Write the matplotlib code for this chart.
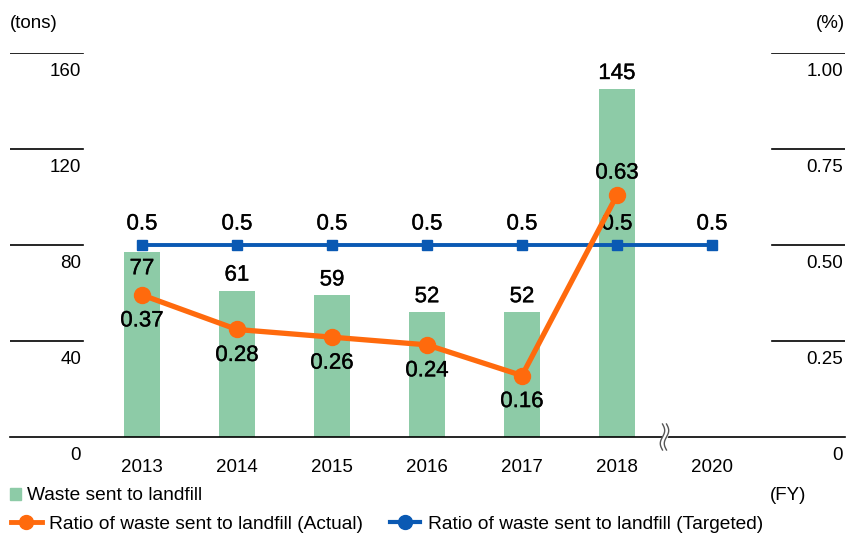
import numpy as np
import matplotlib.pyplot as plt
import matplotlib.patheffects as pe
from matplotlib.lines import Line2D
from matplotlib.patches import Patch
import matplotlib.transforms as mtransforms

# data
years = ['2013', '2014', '2015', '2016', '2017', '2018', '2020']
waste = [77, 61, 59, 52, 52, 145]              # tons, no bar for 2020
ratio_actual = [0.37, 0.28, 0.26, 0.24, 0.16, 0.63]
ratio_target = [0.5, 0.5, 0.5, 0.5, 0.5, 0.5, 0.5]
left_ticks = [0, 40, 80, 120, 160]
right_ticks = [0, 0.25, 0.50, 0.75, 1.00]
right_labels = ['0', '0.25', '0.50', '0.75', '1.00']

GREEN = '#8dcba7'
ORANGE = '#ff6a0d'
BLUE = '#0a59b3'

plt.rcParams['font.family'] = ['Liberation Sans', 'DejaVu Sans']
FS = 13.5
LEG_FS = 13.75
LFS = 16
bold_ish = [pe.withStroke(linewidth=0.3, foreground='#1a1a1a')]

W, H = 847, 537
fig = plt.figure(figsize=(W / 100, H / 100), dpi=100)
ax = fig.add_axes([10 / W, 100 / H, 835 / W, 384 / H])
x = np.arange(len(years))
ax.set_xlim(-1.389, 7.4)
ax.set_ylim(0, 160)
for s in ['top', 'left', 'right']:
    ax.spines[s].set_visible(False)
ax.spines['bottom'].set_linewidth(1.2)
ax.set_yticks([])
ax.set_xticks(x, years)
ax.tick_params(axis='x', length=0, pad=16, labelsize=FS)

# short gridline stubs on both sides
for v in left_ticks[1:]:
    ax.axhline(v, xmin=0, xmax=73 / 835, color='black', lw=1.2)
    ax.axhline(v, xmin=762 / 835, xmax=1, color='black', lw=1.2)

ytr = mtransforms.blended_transform_factory(ax.transAxes, ax.transData)
for v in left_ticks:
    ax.annotate(str(v), (71 / 835, v), xycoords=ytr, xytext=(0, -19),
                textcoords='offset pixels', ha='right', va='center', fontsize=FS)
for v, lab in zip(right_ticks, right_labels):
    ax.annotate(lab, (833 / 835, v * 160), xycoords=ytr, xytext=(0, -19),
                textcoords='offset pixels', ha='right', va='center', fontsize=FS)

# bars
ax.bar(x[:len(waste)], waste, width=0.38, color=GREEN, zorder=2)
for i, v in enumerate(waste):
    if i == 0:
        ax.annotate(str(v), (x[i], v), xytext=(0, -6), textcoords='offset pixels',
                    ha='center', va='top', fontsize=LFS, zorder=6,
                    path_effects=bold_ish)
    else:
        ax.annotate(str(v), (x[i], v), xytext=(0, 5), textcoords='offset pixels',
                    ha='center', va='bottom', fontsize=LFS, zorder=6,
                    path_effects=bold_ish)

# ratio lines on secondary axis
ax2 = ax.twinx()
ax2.set_ylim(0, 1.0)
ax2.axis('off')
ax2.plot(x, ratio_target, color=BLUE, lw=2.8, marker='s', ms=6.5, zorder=3)
ax2.plot(x[:len(ratio_actual)], ratio_actual, color=ORANGE, lw=3.8,
         marker='o', ms=11.5, zorder=4)
for i, v in enumerate(ratio_target):
    ax2.annotate(str(v), (x[i], v), xytext=(0, 21), textcoords='offset pixels',
                 ha='center', va='center', fontsize=LFS, path_effects=bold_ish)
for i, v in enumerate(ratio_actual):
    dy = 22 if i == 5 else -26
    ax2.annotate(f'{v:.2f}', (x[i], v), xytext=(0, dy), textcoords='offset pixels',
                 ha='center', va='center', fontsize=LFS, path_effects=bold_ish)

# axis break mark between 2018 and 2020
bx, by = ax.transData.transform((5.5, 0))
t = np.linspace(-1, 1, 50)
wave = 2.2 * np.sin(t * np.pi)
yy = by + 13 * t
ax.fill_betweenx(yy, bx - 2 + wave, bx + 2 + wave, color='white',
                 transform=None, zorder=5, clip_on=False)
for off in (-2, 2):
    ax.plot(bx + off + wave, yy, color='#555555', lw=1, transform=None,
            zorder=6, clip_on=False)

# units
fig.text(10 / W, 1 - 23 / H, '(tons)', ha='left', va='center', fontsize=FS)
fig.text(845 / W, 1 - 23 / H, '(%)', ha='right', va='center', fontsize=FS)
fig.text(806 / W, 1 - 495 / H, '(FY)', ha='right', va='center', fontsize=FS)

# legends
fig.legend(handles=[Patch(color=GREEN, label='Waste sent to landfill')],
           loc='center left', bbox_to_anchor=(10 / W, 1 - 496 / H),
           frameon=False, fontsize=LEG_FS, handlelength=0.6, handleheight=0.6,
           handletextpad=0.3, borderpad=0, borderaxespad=0)
h_act = Line2D([], [], color=ORANGE, lw=3.5, marker='o', ms=10,
               label='Ratio of waste sent to landfill (Actual)')
h_tgt = Line2D([], [], color=BLUE, lw=3, marker='o', ms=10,
               label='Ratio of waste sent to landfill (Targeted)')
fig.legend(handles=[h_act, h_tgt], loc='center left', ncol=2,
           bbox_to_anchor=(11 / W, 1 - 524 / H), frameon=False, fontsize=LEG_FS,
           handlelength=1.6, handletextpad=0.4, columnspacing=1.4,
           borderpad=0, borderaxespad=0)

fig.savefig('out.png', dpi=100)
